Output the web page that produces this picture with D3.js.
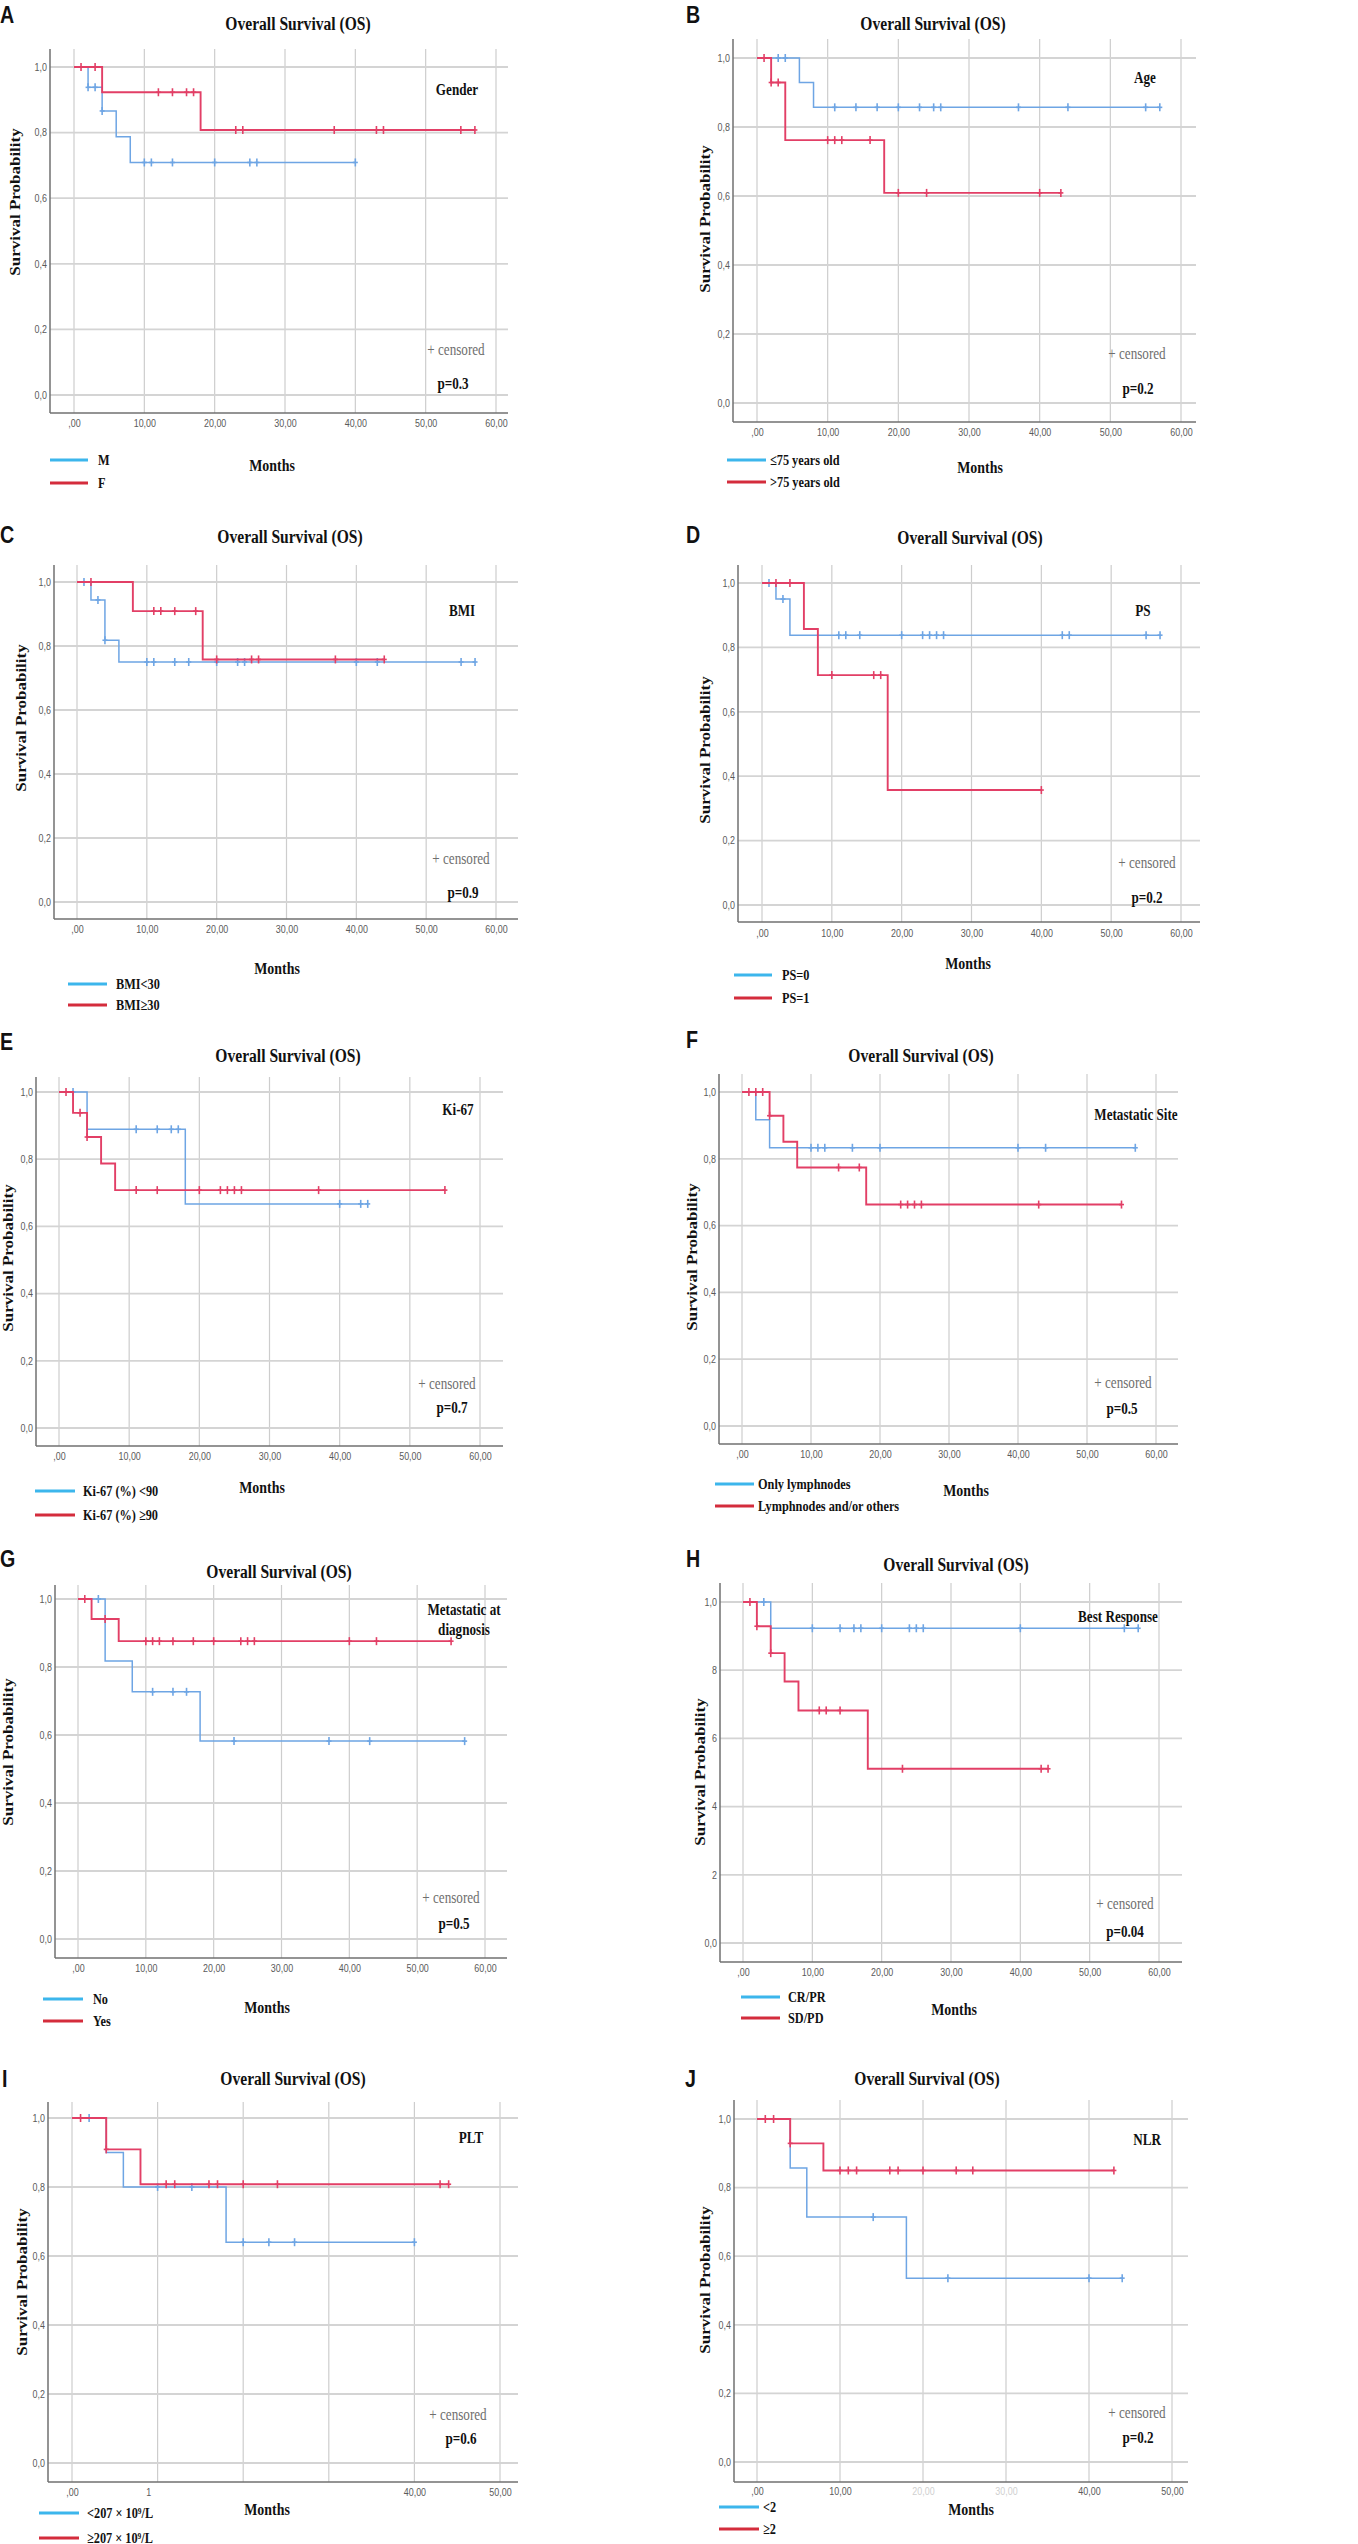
<!DOCTYPE html>
<html>
<head>
<meta charset="utf-8">
<script src="https://cdn.jsdelivr.net/npm/d3@7"></script>
<style>
  body { margin: 0; background: #fff; }
</style>
</head>
<body>
<div id="chart"></div>
<script>
// ---- data: [months, survival after event] and censor times ----
var stepsA1 = [[0, 1], [2, 0.938], [4, 0.866], [6, 0.787], [8, 0.709]];
var censA1 = [2, 3, 4, 10, 11, 14, 20, 25, 26, 40];
var stepsA2 = [[0, 1], [4, 0.923], [18, 0.808]];
var censA2 = [1, 3, 12, 14, 16, 17, 23, 24, 37, 43, 44, 55, 57];

var stepsB1 = [[0, 1], [6, 0.929], [8, 0.857]];
var censB1 = [3, 4, 11, 14, 17, 20, 23, 25, 26, 37, 44, 55, 57];
var stepsB2 = [[0, 1], [2, 0.929], [4, 0.762], [18, 0.609]];
var censB2 = [1, 2, 3, 10, 11, 12, 16, 20, 24, 40, 43];

var stepsC1 = [[0, 1], [2, 0.944], [4, 0.818], [6, 0.75]];
var censC1 = [1, 3, 4, 10, 11, 14, 16, 20, 23, 24, 40, 43, 55, 57];
var stepsC2 = [[0, 1], [8, 0.909], [18, 0.758]];
var censC2 = [2, 11, 12, 14, 17, 20, 25, 26, 37, 44];

var stepsD1 = [[0, 1], [2, 0.95], [4, 0.838]];
var censD1 = [1, 3, 11, 12, 14, 20, 23, 24, 25, 26, 43, 44, 55, 57];
var stepsD2 = [[0, 1], [6, 0.857], [8, 0.714], [18, 0.357]];
var censD2 = [2, 4, 10, 16, 17, 40];

var stepsE1 = [[0, 1], [4, 0.889], [18, 0.667]];
var censE1 = [2, 11, 14, 16, 17, 40, 43, 44];
var stepsE2 = [[0, 1], [2, 0.938], [4, 0.866], [6, 0.787], [8, 0.708]];
var censE2 = [1, 3, 4, 11, 14, 20, 23, 24, 25, 26, 37, 55];

var stepsF1 = [[0, 1], [2, 0.917], [4, 0.833]];
var censF1 = [10, 11, 12, 16, 20, 40, 44, 57];
var stepsF2 = [[0, 1], [4, 0.929], [6, 0.851], [8, 0.774], [18, 0.663]];
var censF2 = [1, 2, 3, 4, 14, 17, 23, 24, 25, 26, 43, 55];

var stepsG1 = [[0, 1], [4, 0.818], [8, 0.727], [18, 0.582]];
var censG1 = [3, 11, 14, 16, 23, 37, 43, 57];
var stepsG2 = [[0, 1], [2, 0.941], [6, 0.876]];
var censG2 = [1, 4, 10, 11, 12, 14, 17, 20, 24, 25, 26, 40, 44, 55];

var stepsH1 = [[0, 1], [4, 0.923]];
var censH1 = [3, 10, 14, 16, 17, 20, 24, 25, 26, 40, 55, 57];
var stepsH2 = [[0, 1], [2, 0.929], [4, 0.85], [6, 0.767], [8, 0.682], [18, 0.511]];
var censH2 = [1, 2, 4, 11, 12, 14, 23, 43, 44];

var stepsI1 = [[0, 1], [4, 0.9], [6, 0.8], [18, 0.64]];
var censI1 = [2, 10, 14, 20, 23, 26, 40];
var stepsI2 = [[0, 1], [4, 0.909], [8, 0.808]];
var censI2 = [1, 4, 11, 12, 16, 17, 20, 24, 43, 44];

var stepsJ1 = [[0, 1], [4, 0.857], [6, 0.714], [18, 0.536]];
var censJ1 = [14, 23, 40, 44];
var stepsJ2 = [[0, 1], [4, 0.929], [8, 0.85]];
var censJ2 = [1, 2, 4, 10, 11, 12, 16, 17, 20, 24, 26, 43];

var panelLetters = ["A", "B", "C", "D", "E", "F", "G", "H", "I", "J"];
var groupTitles = [["Gender"], ["Age"], ["BMI"], ["PS"], ["Ki-67"], ["Metastatic Site"],
  ["Metastatic at", "diagnosis"], ["Best Response"], ["PLT"], ["NLR"]];
var pValues = ["p=0.3", "p=0.2", "p=0.9", "p=0.2", "p=0.7", "p=0.5", "p=0.5", "p=0.04", "p=0.6", "p=0.2"];
var legendLabels = [
  ["M", "F"],
  ["\u226475 years old", ">75 years old"],
  ["BMI<30", "BMI\u226530"],
  ["PS=0", "PS=1"],
  ["Ki-67 (%) <90", "Ki-67 (%) \u226590"],
  ["Only lymphnodes", "Lymphnodes and/or others"],
  ["No", "Yes"],
  ["CR/PR", "SD/PD"],
  ["<207 \u00d7 10\u2079/L", "\u2265207 \u00d7 10\u2079/L"],
  ["<2", "\u22652"]
];
var xTicks60 = [0, 10, 20, 30, 40, 50, 60];
var xTicks50 = [0, 10, 20, 30, 40, 50];
var xLabels60 = [",00", "10,00", "20,00", "30,00", "40,00", "50,00", "60,00"];
var xLabelsI = [",00", "1", "", "", "40,00", "50,00"];
var xLabelsJ = [",00", "10,00", "20,00", "30,00", "40,00", "50,00"];
var yTicks = [0, 0.2, 0.4, 0.6, 0.8, 1.0];
var yLabels = ["0,0", "0,2", "0,4", "0,6", "0,8", "1,0"];
var yLabelsH = ["0,0", "2", "4", "6", "8", "1,0"];

// ---- layout (pixel positions of each panel) ----
var layouts = [
  { ax: 50, top: 49, bottom: 413, right: 508, x0: 74, x1: 496, y0: 395, y1: 67, title: [298, 23], letter: [0, 23], tickY: 424, leg: [50, 88, 460, 483, 98], months: [272, 465], group: [457, 89], cens: [456, 349], p: [453, 383], ylab: [15, 202] },
  { ax: 733, top: 39, bottom: 422, right: 1196, x0: 757, x1: 1181, y0: 403, y1: 58, title: [933, 23], letter: [686, 23], tickY: 433, leg: [727, 766, 460, 482, 770], months: [980, 467], group: [1145, 77], cens: [1137, 353], p: [1138, 388], ylab: [705, 219] },
  { ax: 54, top: 565, bottom: 919, right: 518, x0: 77, x1: 496, y0: 902, y1: 582, title: [290, 536], letter: [0, 543], tickY: 930, leg: [68, 107, 984, 1005, 116], months: [277, 968], group: [462, 610], cens: [461, 858], p: [463, 892], ylab: [21, 718] },
  { ax: 738, top: 565, bottom: 922, right: 1200, x0: 762, x1: 1181, y0: 905, y1: 583, title: [970, 537], letter: [686, 543], tickY: 934, leg: [734, 772, 975, 998, 782], months: [968, 963], group: [1143, 610], cens: [1147, 862], p: [1147, 897], ylab: [705, 750] },
  { ax: 36, top: 1077, bottom: 1446, right: 503, x0: 59, x1: 480, y0: 1428, y1: 1092, title: [288, 1055], letter: [0, 1050], tickY: 1457, leg: [35, 75, 1491, 1515, 83], months: [262, 1487], group: [458, 1109], cens: [447, 1383], p: [452, 1407], ylab: [8, 1258] },
  { ax: 719, top: 1074, bottom: 1444, right: 1178, x0: 742, x1: 1156, y0: 1426, y1: 1092, title: [921, 1055], letter: [686, 1048], tickY: 1455, leg: [715, 754, 1484, 1506, 758], months: [966, 1490], group: [1136, 1114], cens: [1123, 1382], p: [1122, 1408], ylab: [692, 1257] },
  { ax: 55, top: 1585, bottom: 1958, right: 507, x0: 78, x1: 485, y0: 1939, y1: 1599, title: [279, 1571], letter: [0, 1567], tickY: 1969, leg: [43, 83, 1999, 2021, 93], months: [267, 2007], group: [464, 1609], cens: [451, 1897], p: [454, 1923], ylab: [8, 1752] },
  { ax: 720, top: 1583, bottom: 1962, right: 1182, x0: 743, x1: 1159, y0: 1943, y1: 1602, title: [956, 1564], letter: [686, 1567], tickY: 1973, leg: [741, 780, 1997, 2018, 788], months: [954, 2009], group: [1118, 1616], cens: [1125, 1903], p: [1125, 1931], ylab: [700, 1772] },
  { ax: 48, top: 2102, bottom: 2482, right: 518, x0: 72, x1: 500, y0: 2463, y1: 2118, title: [293, 2078], letter: [2, 2087], tickY: 2493, leg: [39, 79, 2513, 2538, 87], months: [267, 2509], group: [471, 2137], cens: [458, 2414], p: [461, 2438], ylab: [22, 2282] },
  { ax: 734, top: 2100, bottom: 2482, right: 1188, x0: 757, x1: 1172, y0: 2462, y1: 2119, title: [927, 2078], letter: [685, 2087], tickY: 2492, leg: [719, 759, 2507, 2529, 763], months: [971, 2509], group: [1147, 2139], cens: [1137, 2412], p: [1138, 2437], ylab: [705, 2280] }
];

var series = [
  [[stepsA1, censA1], [stepsA2, censA2]],
  [[stepsB1, censB1], [stepsB2, censB2]],
  [[stepsC1, censC1], [stepsC2, censC2]],
  [[stepsD1, censD1], [stepsD2, censD2]],
  [[stepsE1, censE1], [stepsE2, censE2]],
  [[stepsF1, censF1], [stepsF2, censF2]],
  [[stepsG1, censG1], [stepsG2, censG2]],
  [[stepsH1, censH1], [stepsH2, censH2]],
  [[stepsI1, censI1], [stepsI2, censI2]],
  [[stepsJ1, censJ1], [stepsJ2, censJ2]]
];

var SX = 0.82;
var SERIF = "'Liberation Serif', 'DejaVu Serif', serif";
var SANS = "'Liberation Sans', Arial, sans-serif";
var curveColors = ["#6ea5e4", "#e23f66"];
var legendColors = ["#3cb6ec", "#d42c3c"];

var svg = d3.select("#chart").append("svg")
  .attr("width", 1358)
  .attr("height", 2544);

function addText(g, x, y, s, size, opts) {
  opts = opts || {};
  var t = g.append("text")
    .attr("transform", "translate(" + x + "," + y + ")" + (opts.rotate ? " rotate(-90) scale(1," + SX + ")" : " scale(" + SX + ",1)"))
    .attr("text-anchor", opts.anchor || "middle")
    .attr("dy", opts.dy || "0.35em")
    .style("font-family", opts.family || SERIF)
    .style("font-size", size + "px")
    .style("font-weight", opts.weight || "bold")
    .attr("fill", opts.fill || "#111")
    .text(s);
  return t;
}

function survivalAt(steps, t) {
  var s = 1;
  steps.forEach(function (d) {
    if (d[0] <= t) s = d[1];
  });
  return s;
}

function drawPanel(i) {
  var L = layouts[i];
  var small = i >= 8;
  var xMax = small ? 50 : 60;
  var ticks = small ? xTicks50 : xTicks60;
  var labels = i === 8 ? xLabelsI : i === 9 ? xLabelsJ : xLabels60;

  var x = d3.scaleLinear().domain([0, xMax]).range([L.x0, L.x1]);
  var y = d3.scaleLinear().domain([0, 1]).range([L.y0, L.y1]);
  var g = svg.append("g");

  // grid
  g.selectAll(".vgrid").data(ticks).join("line")
    .attr("class", "vgrid")
    .attr("x1", function (d) { return x(d); })
    .attr("x2", function (d) { return x(d); })
    .attr("y1", L.top).attr("y2", L.bottom)
    .attr("stroke", "#cdcdcd").attr("stroke-width", 1.2);

  g.selectAll(".hgrid").data(yTicks).join("line")
    .attr("class", "hgrid")
    .attr("x1", L.ax).attr("x2", L.right)
    .attr("y1", function (d) { return y(d); })
    .attr("y2", function (d) { return y(d); })
    .attr("stroke", "#d4d4d4").attr("stroke-width", 1.8);

  // axis lines
  g.append("line").attr("x1", L.ax).attr("x2", L.ax).attr("y1", L.top).attr("y2", L.bottom)
    .attr("stroke", "#707070").attr("stroke-width", 1.5);
  g.append("line").attr("x1", L.ax).attr("x2", L.right).attr("y1", L.bottom).attr("y2", L.bottom)
    .attr("stroke", "#707070").attr("stroke-width", 1.5);

  // tick labels
  var xAxis = g.append("g")
    .attr("transform", "translate(0," + (L.tickY - 4) + ")")
    .call(d3.axisBottom(x).tickValues(ticks).tickSize(0).tickPadding(0)
      .tickFormat(function (d, k) { return labels[k]; }));
  xAxis.select(".domain").remove();
  xAxis.selectAll("text")
    .attr("transform", "scale(0.85,1)")
    .attr("dx", function (d) { return i === 8 && d === 10 ? -11 : 0; })
    .attr("fill", function (d) { return i === 9 && (d === 20 || d === 30) ? "#d0d0d0" : "#5a5a5a"; })
    .style("font-family", SANS).style("font-size", "10.5px");

  var yl = i === 7 ? yLabelsH : yLabels;
  var yAxis = g.append("g")
    .attr("transform", "translate(" + (L.ax - 3) + ",0)")
    .call(d3.axisLeft(y).tickValues(yTicks).tickSize(0).tickPadding(0)
      .tickFormat(function (d, k) { return yl[k]; }));
  yAxis.select(".domain").remove();
  yAxis.selectAll("text")
    .attr("transform", "scale(0.85,1)")
    .attr("fill", "#5a5a5a")
    .style("font-family", SANS).style("font-size", "10.5px");

  // survival curves
  var line = d3.line()
    .x(function (d) { return x(d[0]); })
    .y(function (d) { return y(d[1]); })
    .curve(d3.curveStepAfter);

  series[i].forEach(function (sr, k) {
    var steps = sr[0], cens = sr[1];
    var end = Math.max(d3.max(cens), steps[steps.length - 1][0]);
    var pts = steps.concat([[end, steps[steps.length - 1][1]]]);
    g.append("path")
      .datum(pts)
      .attr("fill", "none")
      .attr("stroke", curveColors[k])
      .attr("stroke-width", k === 1 ? 1.9 : 1.5)
      .attr("d", line);

    var marks = g.selectAll(".cens" + k).data(cens).join("g")
      .attr("class", "cens" + k)
      .attr("transform", function (t) {
        return "translate(" + x(t) + "," + y(survivalAt(steps, t)) + ")";
      });
    marks.append("line").attr("x1", 0).attr("x2", 0).attr("y1", -4).attr("y2", 4)
      .attr("stroke", curveColors[k]).attr("stroke-width", 1.6);
    marks.append("line").attr("x1", -2.5).attr("x2", 2.5).attr("y1", 0).attr("y2", 0)
      .attr("stroke", curveColors[k]).attr("stroke-width", 1.6);
  });

  // texts
  addText(g, L.letter[0], L.letter[1], panelLetters[i], 24, { anchor: "start", dy: "0", family: SANS });
  addText(g, L.title[0], L.title[1], "Overall Survival (OS)", 19);
  addText(g, L.ylab[0], L.ylab[1], "Survival Probability", 17, { rotate: true });
  addText(g, L.months[0], L.months[1], "Months", 17);
  groupTitles[i].forEach(function (s, k) {
    addText(g, L.group[0], L.group[1] + k * 20, s, 16);
  });
  addText(g, L.cens[0], L.cens[1], "+ censored", 16, { weight: "normal", fill: "#6e6e6e" });
  addText(g, L.p[0], L.p[1], pValues[i], 16);

  // legend
  legendLabels[i].forEach(function (s, k) {
    var ly = L.leg[2 + k];
    g.append("line")
      .attr("x1", L.leg[0]).attr("x2", L.leg[1])
      .attr("y1", ly).attr("y2", ly)
      .attr("stroke", legendColors[k]).attr("stroke-width", 3);
    addText(g, L.leg[4], ly, s, 15, { anchor: "start" });
  });
}

d3.range(layouts.length).forEach(drawPanel);
</script>
</body>
</html>
